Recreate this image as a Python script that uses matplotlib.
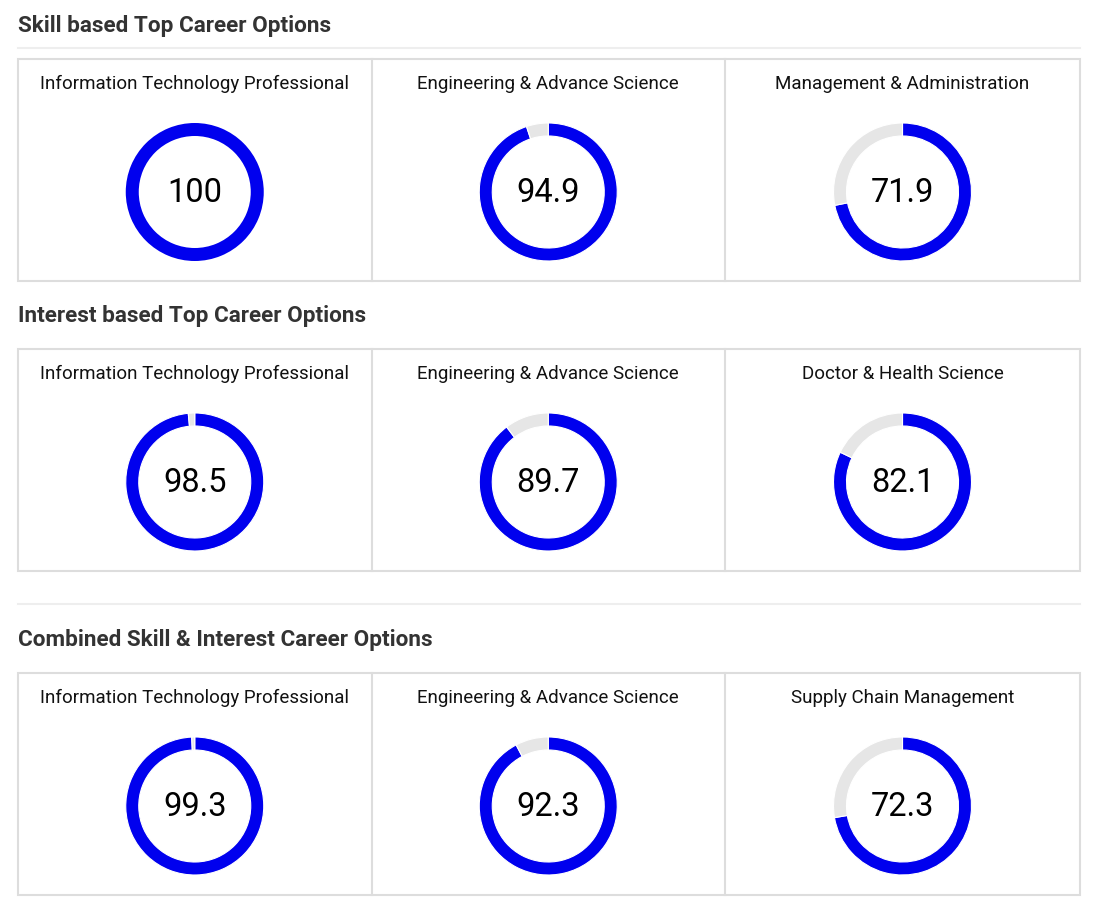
import matplotlib
matplotlib.use("Agg")
import matplotlib.pyplot as plt
from matplotlib.patches import Rectangle

plt.rcParams['font.family'] = ['Roboto', 'DejaVu Sans']

# section headings
sections = ["Skill based Top Career Options",
            "Interest based Top Career Options",
            "Combined Skill & Interest Career Options"]

# career names and scores per section
skill_names = ["Information Technology Professional",
               "Engineering & Advance Science",
               "Management & Administration"]
skill_scores = [100, 94.9, 71.9]

interest_names = ["Information Technology Professional",
                  "Engineering & Advance Science",
                  "Doctor & Health Science"]
interest_scores = [98.5, 89.7, 82.1]

combined_names = ["Information Technology Professional",
                  "Engineering & Advance Science",
                  "Supply Chain Management"]
combined_scores = [99.3, 92.3, 72.3]

all_names = [skill_names, interest_names, combined_names]
all_scores = [skill_scores, interest_scores, combined_scores]

W, H = 1100, 922
fig = plt.figure(figsize=(W / 100, H / 100), dpi=100)
ax = fig.add_axes([0, 0, 1, 1])
ax.set_xlim(0, W)
ax.set_ylim(H, 0)
ax.axis('off')

blue = '#0000ee'
grey = '#e6e6e6'
border = '#dddddd'

title_y = [26, 316, 640]
box_top = [59, 349, 673]
rule_y = [48, None, 604]
box_h = 222
x0, x1 = 18, 1080
col_edges = [18, 371.5, 725, 1080]
r_out = 69
ring = 13

for s in range(3):
    ax.text(x0, title_y[s], sections[s], fontsize=16.2, fontweight='bold',
            color='#333333', ha='left', va='center')
    if rule_y[s] is not None:
        ax.plot([x0, x1], [rule_y[s]] * 2, color='#eeeeee', lw=1.5)

    top = box_top[s]
    ax.add_patch(Rectangle((x0, top), x1 - x0, box_h, fill=False,
                           edgecolor=border, lw=1.5))
    for xe in col_edges[1:-1]:
        ax.plot([xe, xe], [top, top + box_h], color=border, lw=1.5)

    for c in range(3):
        cx = (col_edges[c] + col_edges[c + 1]) / 2
        cy = top + 133
        ax.text(cx, top + 25, all_names[s][c], fontsize=13.5, color='#111111',
                ha='center', va='center')

        v = all_scores[s][c]
        half = r_out * 1.25
        pax = fig.add_axes([(cx - half) / W, 1 - (cy + half) / H,
                            2 * half / W, 2 * half / H])
        edge = 0.8 if v < 100 else 0
        pax.pie([v, 100 - v], colors=[blue, grey], startangle=90,
                counterclock=False, radius=1,
                wedgeprops=dict(width=ring / r_out, edgecolor='white', linewidth=edge))
        pax.set_xlim(-1.25, 1.25)
        pax.set_ylim(-1.25, 1.25)
        pax.set_aspect('equal')
        label = f"{v:g}"
        pax.text(0, -0.02, label, fontsize=23.5, color='black', ha='center', va='center')

fig.savefig('out.png', dpi=100)
